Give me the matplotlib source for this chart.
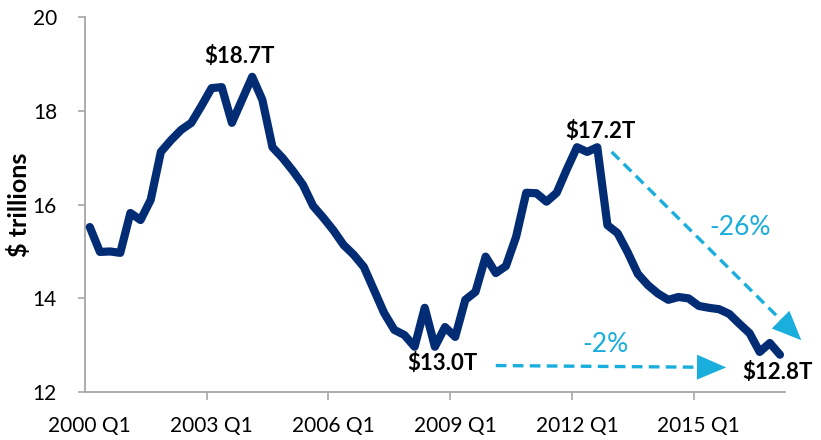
import numpy as np
import matplotlib
matplotlib.use("Agg")
import matplotlib.pyplot as plt

plt.rcParams['font.family'] = ['Lato', 'DejaVu Sans']

# quarterly values, 2000 Q1 .. 2017 Q1 ($ trillions)
years = list(range(2000, 2018))
quarters = [f"{y} Q{q}" for y in years for q in range(1, 5)][:69]
values = [
    15.52, 14.99, 15.00, 14.97, 15.82, 15.67, 16.10, 17.12, 17.37, 17.59, 17.74, 18.10,
    18.48, 18.50, 17.74, 18.23, 18.72, 18.23, 17.22, 16.99, 16.72, 16.42, 15.97, 15.72,
    15.45, 15.14, 14.93, 14.67, 14.18, 13.69, 13.33, 13.22, 12.97, 13.80, 12.97, 13.39,
    13.18, 13.97, 14.14, 14.89, 14.54, 14.69, 15.31, 16.25, 16.24, 16.06, 16.25, 16.75,
    17.22, 17.12, 17.22, 15.56, 15.39, 14.98, 14.52, 14.28, 14.10, 13.97, 14.03, 14.00,
    13.84, 13.80, 13.77, 13.67, 13.46, 13.26, 12.86, 13.05, 12.80,
]
tick_labels = ["2000 Q1", "2003 Q1", "2006 Q1", "2009 Q1", "2012 Q1", "2015 Q1"]
point_labels = ["$18.7T", "$13.0T", "$17.2T", "$12.8T"]
change_labels = ["-26%", "-2%"]

navy = '#022C73'
cyan = '#19AEDC'
grey = '#A6A6A6'

fig = plt.figure(figsize=(8.21, 4.40), dpi=100)
ax = fig.add_axes([0.1032, 0.1084, 0.8530, 0.8536])

x = np.arange(len(values))
ax.plot(x, values, color=navy, lw=5.9, solid_joinstyle='round',
        solid_capstyle='round', clip_on=False, zorder=3)

ax.set_xlim(-0.5, len(values) - 0.5)
ax.set_ylim(12, 20)
ax.set_yticks([12, 14, 16, 18, 20])

major = [quarters.index(t) for t in tick_labels]
ax.set_xticks(major)
ax.set_xticklabels(tick_labels)
ax.set_xticks([m - 0.5 for m in major[1:]], minor=True)
ax.tick_params(axis='x', which='major', length=0, pad=17, labelsize=15)
ax.tick_params(axis='x', which='minor', length=6, width=1.2, color=grey, direction='out')
ax.tick_params(axis='y', length=5, width=1.2, color=grey, pad=15, labelsize=15)

for s in ['top', 'right']:
    ax.spines[s].set_visible(False)
for s in ['left', 'bottom']:
    ax.spines[s].set_color(grey)
    ax.spines[s].set_linewidth(1.3)

ax.set_ylabel("$ trillions", fontsize=18, fontweight='bold', labelpad=1)

# value callouts
ax.text(14.8, 19.16, point_labels[0], fontsize=16, fontweight='bold', ha='center', va='center')
ax.text(34.7, 12.62, point_labels[1], fontsize=16, fontweight='bold', ha='center', va='center')
ax.text(50.3, 17.55, point_labels[2], fontsize=16, fontweight='bold', ha='center', va='center')
ax.text(67.8, 12.43, point_labels[3], fontsize=16, fontweight='bold', ha='center', va='center')


def dashed_arrow(start, tip, frac):
    base = (start[0] + (tip[0] - start[0]) * frac, start[1] + (tip[1] - start[1]) * frac)
    ax.plot([start[0], base[0]], [start[1], base[1]], color=cyan, lw=2.4,
            linestyle=(0, (3.2, 1.9)), clip_on=False, zorder=4)
    ax.annotate('', xy=tip, xytext=start, annotation_clip=False,
                arrowprops=dict(arrowstyle='-|>,head_length=2.1,head_width=0.9',
                                mutation_scale=10, lw=0, color=cyan,
                                shrinkA=0, shrinkB=0), zorder=4)


dashed_arrow((51.42, 17.12), (70.1, 13.11), 0.92)
dashed_arrow((40.0, 12.57), (62.7, 12.53), 0.93)

ax.text(64.1, 15.5, change_labels[0], fontsize=19, color=cyan, ha='center', va='center')
ax.text(50.8, 13.02, change_labels[1], fontsize=19, color=cyan, ha='center', va='center')

fig.savefig("out.png", dpi=100)
